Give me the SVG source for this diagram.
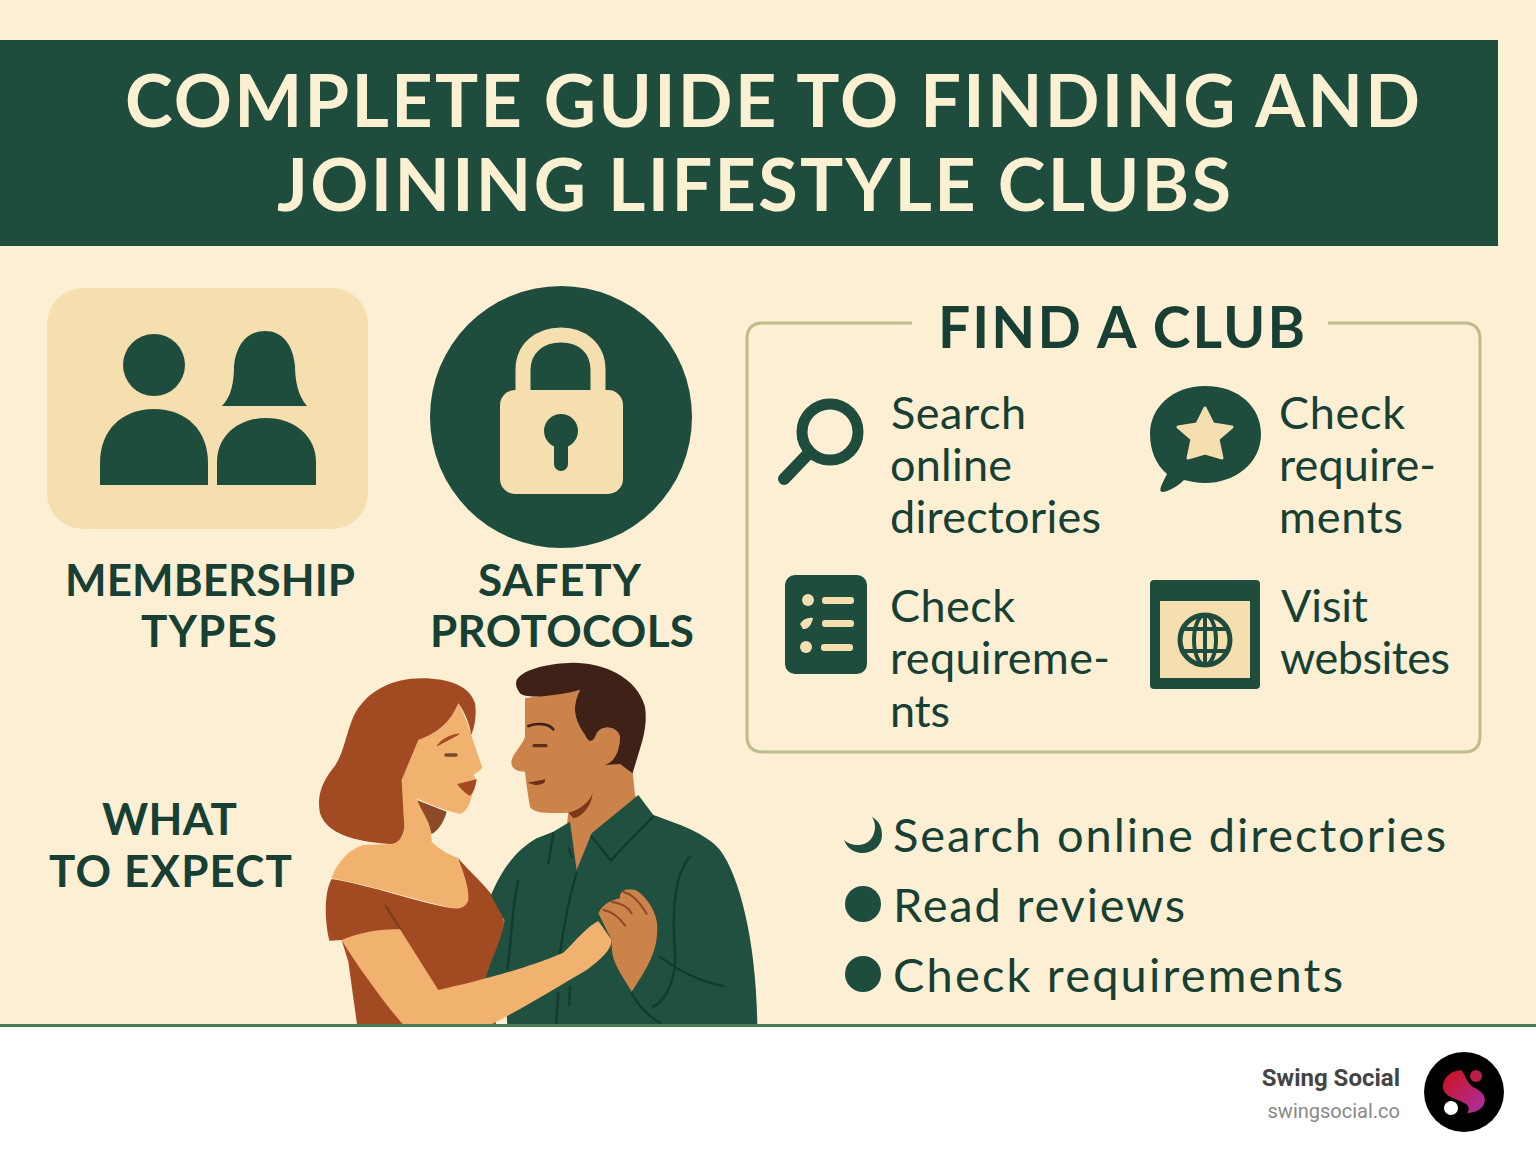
<svg xmlns="http://www.w3.org/2000/svg" width="1536" height="1154" viewBox="0 0 1536 1154">
<style>
text{font-family:Lato,"Noto Sans","Liberation Sans",sans-serif;fill:#173f33}
.title{font-size:72px;font-weight:700;fill:#fcf0d2}
.lab{font-size:44px;font-weight:700}
.item{font-size:45px}
.list{font-size:47px}
.g{fill:#1e4d3e}.c{fill:#f5dfae}
.line{fill:none;stroke:#143a2e;stroke-width:7;stroke-linecap:round}
</style>
<rect width="1536" height="1154" fill="#fcefd3"/>
<g id="header"><rect y="40" width="1498" height="206" class="g"/>
<text class="title" x="125" y="127" textLength="1295">COMPLETE GUIDE TO FINDING AND</text>
<text class="title" x="277" y="211" textLength="954">JOINING LIFESTYLE CLUBS</text></g>
<g id="membership"><rect x="47" y="288" width="321" height="241" rx="36" class="c"/>
<circle cx="154" cy="365" r="31" class="g"/>
<path class="g" d="M100 485V463C100 430 122 409 154 409S208 430 208 463V485Z"/>
<path class="g" d="M222 406C232 396 234 380 234 366C236 344 248 331 265 331S293 344 295 366C295 380 298 396 307 406Z"/>
<path class="g" d="M217 485V462C217 436 238 418 266 418S316 436 316 462V485Z"/>
<text class="lab" x="65" y="596" textLength="290">MEMBERSHIP</text><text class="lab" x="141" y="647" textLength="136">TYPES</text></g>
<g id="safety"><circle cx="561" cy="417" r="131" class="g"/>
<path d="M523 400V370C523 348 540 335 561 335S598 348 598 370V400" fill="none" stroke="#f5dfae" stroke-width="15"/>
<rect x="500" y="390" width="123" height="104" rx="15" class="c"/>
<circle cx="561" cy="431" r="17" class="g"/><rect x="554" y="435" width="14" height="36" rx="7" class="g"/>
<text class="lab" x="478" y="596" textLength="163">SAFETY</text><text class="lab" x="430" y="647" textLength="264">PROTOCOLS</text></g>
<g id="find-a-club"><path d="M912 323H763Q747 323 747 339V736Q747 752 763 752H1464Q1480 752 1480 736V339Q1480 323 1464 323H1328" fill="none" stroke="#bcbc8c" stroke-width="3"/>
<text x="938" y="348" font-size="57" font-weight="700" textLength="367">FIND A CLUB</text></g>
<g id="search-item"><circle cx="830" cy="432" r="28" fill="none" stroke="#1e4d3e" stroke-width="11"/>
<path d="M808 454L784 479" stroke="#1e4d3e" stroke-width="12" stroke-linecap="round"/>
<text class="item" x="891" y="429" textLength="135">Search</text><text class="item" x="890" y="481" textLength="122">online</text><text class="item" x="890" y="533" textLength="211">directories</text></g>
<g id="reviews-item"><path class="g" d="M1205 386C1240 386 1261 408 1261 434C1261 464 1234 483 1205 483C1197 483 1190 481 1184 480C1178 486 1168 492 1162 492C1158 491 1162 484 1167 474C1156 465 1150 450 1150 434C1150 408 1172 386 1205 386Z"/>
<path class="c" stroke="#f5dfae" stroke-width="3" stroke-linejoin="round" d="M1205 408L1213 424L1232 427L1218 439L1222 458L1205 453L1188 458L1192 439L1178 427L1197 424Z"/>
<text class="item" x="1279" y="429" textLength="126">Check</text><text class="item" x="1279" y="481" textLength="157">require-</text><text class="item" x="1279" y="533" textLength="124">ments</text></g>
<g id="requirements-item"><rect x="785" y="575" width="82" height="99" rx="10" class="g"/>
<circle cx="808" cy="600" r="6" class="c"/><path class="c" d="M800 624C803 619 808 617 813 618C812 624 808 630 803 629Z"/><circle cx="806" cy="647" r="6" class="c"/>
<rect x="822" y="597" width="32" height="7" rx="3" class="c"/><rect x="822" y="620" width="32" height="7" rx="3" class="c"/><rect x="821" y="644" width="32" height="7" rx="3" class="c"/>
<text class="item" x="890" y="622" textLength="125">Check</text><text class="item" x="890" y="674" textLength="220">requireme-</text><text class="item" x="890" y="727" textLength="60">nts</text></g>
<g id="websites-item"><rect x="1150" y="580" width="110" height="109" rx="4" class="g"/>
<rect x="1160" y="601" width="90" height="77" class="c"/>
<circle cx="1205" cy="640" r="25" class="c" stroke="#1e4d3e" stroke-width="5"/>
<ellipse cx="1205" cy="640" rx="11" ry="25" fill="none" stroke="#1e4d3e" stroke-width="4"/>
<path d="M1205 615V665M1184 629H1226M1184 651H1226" stroke="#1e4d3e" stroke-width="4"/>
<text class="item" x="1281" y="622" textLength="87">Visit</text><text class="item" x="1280" y="674" textLength="170">websites</text></g>
<g id="what-to-expect"><text class="lab" x="102" y="835" textLength="135">WHAT</text><text class="lab" x="49" y="887" textLength="243">TO EXPECT</text></g>
<g id="couple" transform="translate(310 660) scale(.33333)">
<path fill="#a24a22" d="M65 657C180 675 330 730 430 745L445 595C490 650 560 700 580 770C590 830 560 880 530 950L560 1100H142L115 905L95 840L58 842C45 790 40 700 65 657Z"/>
<path fill="#8c4a26" d="M320 420L410 455C400 490 385 510 365 522Z"/>
<path fill="#f0b26e" d="M445 130C470 170 490 250 517 322C510 335 495 340 490 345L500 360C480 420 480 450 450 462C400 450 350 430 320 415C330 450 360 480 363 520L365 545C390 570 420 585 445 595C460 640 478 680 475 720C470 740 450 748 430 745C350 730 200 680 65 655C75 620 110 570 160 555L240 552C265 552 283 530 283 500L275 360L325 240C380 220 420 190 445 130Z"/>
<path fill="#a24a22" d="M495 130C480 80 420 55 335 55C250 55 170 90 130 170C105 230 100 290 65 330C35 370 20 410 30 460C50 520 130 545 240 552C265 552 280 530 283 500L275 360L325 240C380 220 420 190 445 130C460 150 480 190 483 225C495 200 500 160 495 130Z"/>
<path fill="#a24a22" d="M442 372L500 358C495 385 490 400 480 407C465 400 450 385 442 372Z"/>
<path fill="#a24a22" d="M382 257C395 238 420 225 447 222C430 232 405 245 382 257Z" stroke="#a24a22" stroke-width="3" stroke-linejoin="round"/>
<path d="M408 285H438" stroke="#7a4a2a" stroke-width="10" stroke-linecap="round"/>
<path d="M225 735L272 808" stroke="#7c3a1c" stroke-width="6"/>
<path fill="#cc834a" d="M645 115L810 90C790 130 785 170 825 225C835 250 850 250 860 220C875 195 920 195 930 230C930 270 925 285 940 300L968 335L975 405L990 430L860 540L800 640L770 500L775 458C730 460 670 462 660 440C655 410 650 380 645 335C620 335 600 325 605 300C610 280 640 250 645 230Z"/>
<path fill="#1f5040" d="M985 405L1030 465C1100 490 1190 520 1230 570C1290 650 1340 850 1342 1100H592L590 1060L528 950C550 880 580 830 583 780L543 705C580 620 620 570 680 535L730 515L780 485L800 630L845 520Z"/>
<path fill="#7a3a1a" d="M775 458C810 450 840 425 848 398C845 440 815 470 790 475Z"/>
<path fill="#3f2117" d="M620 60C640 25 720 10 790 8C880 8 980 50 1005 140C1015 210 990 260 968 340L930 312L885 315C915 305 930 270 930 230C920 195 875 195 860 220C850 250 835 250 825 225C785 170 790 130 810 90C750 105 650 120 630 100C620 85 615 75 620 60Z"/>
<path d="M655 198C680 188 715 190 730 208" fill="none" stroke="#3f2117" stroke-width="8" stroke-linecap="round"/><path d="M672 257H708" stroke="#5a3018" stroke-width="10" stroke-linecap="round"/>
<path fill="#6b2f1a" d="M652 368L705 358C708 370 695 376 675 375Z"/>
<path class="line" d="M1030 470C990 510 930 570 903 602L845 530M730 520L715 610M775 565L785 590M800 640C780 700 760 810 750 880M625 662C605 740 605 850 592 925M1140 590C1095 640 1085 750 1095 880C1100 950 1070 1020 1030 1040M1050 890C1100 930 1170 965 1240 978M965 1000C985 1040 1020 1070 1050 1090M745 1000L738 1090M780 980L778 1035"/>
<path fill="#f0b26e" d="M95 840C150 815 220 805 270 808L385 990C500 965 650 925 760 878C800 840 830 800 865 783L905 840C905 870 870 900 830 930C760 970 650 1040 530 1100H285C230 1040 130 900 95 840Z"/>
<path fill="#cc834a" d="M865 760C880 730 905 720 930 715C925 690 960 680 985 695C1020 720 1045 770 1042 810C1040 860 1030 900 965 995C940 950 905 910 905 860V840Z"/>
<path d="M880 750C910 755 930 775 945 797M905 725C935 730 955 740 965 760M940 695C975 705 995 735 1010 762" fill="none" stroke="#8c4a26" stroke-width="6" stroke-linecap="round"/>
</g>
<g id="checklist">
<path class="g" d="M872 817C880 821 882 829 882 835C882 846 873 853 862 853C854 853 847 848 844 840C849 845 858 846 864 844C872 841 875 833 875 827C875 823 874 820 872 817Z"/>
<circle cx="863" cy="904" r="18" class="g"/><circle cx="863" cy="974" r="18" class="g"/>
<text class="list" x="893" y="852" textLength="553">Search online directories</text>
<text class="list" x="893" y="922" textLength="292">Read reviews</text>
<text class="list" x="893" y="992" textLength="450">Check requirements</text></g>
<g id="footer"><rect y="1024" width="1536" height="130" fill="#fff"/><rect y="1024" width="1536" height="3" fill="#4a7a55"/>
<text x="1400" y="1086" text-anchor="end" style="font-family:Roboto,sans-serif;font-size:24px;font-weight:700;fill:#444">Swing Social</text>
<text x="1400" y="1118" text-anchor="end" style="font-family:Roboto,sans-serif;font-size:20px;fill:#888">swingsocial.co</text>
<circle cx="1464" cy="1092" r="40" fill="#000"/>
<defs><linearGradient id="s" x1="0" y1="0" x2="1" y2="1"><stop offset="0" stop-color="#d01018"/><stop offset="1" stop-color="#a830a8"/></linearGradient></defs>
<path fill="url(#s)" d="M1461 1070C1467 1077 1466 1082 1473 1087C1482 1091 1485 1096 1485 1100C1484 1108 1477 1113 1467 1113C1471 1108 1468 1104 1460 1101C1450 1097 1443 1094 1443 1087C1443 1078 1450 1071 1461 1070Z"/>
<circle cx="1476" cy="1076" r="6" fill="#b81e48"/><circle cx="1451" cy="1108" r="7" fill="#fff"/></g>
</svg>
